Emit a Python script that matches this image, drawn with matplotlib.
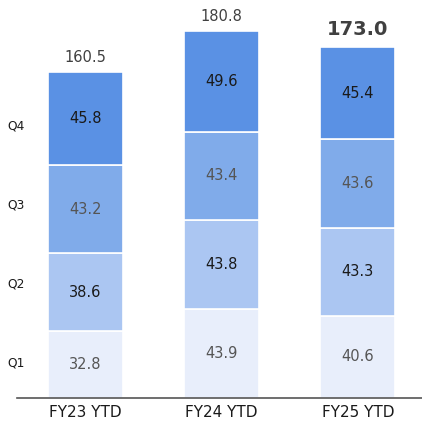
import numpy as np
import matplotlib.pyplot as plt
import matplotlib.transforms as mtransforms

plt.rcParams["font.family"] = "DejaVu Sans"

# categories and quarterly values
years = ["FY23 YTD", "FY24 YTD", "FY25 YTD"]
quarters = ["Q1", "Q2", "Q3", "Q4"]
q1 = [32.8, 43.9, 40.6]
q2 = [38.6, 43.8, 43.3]
q3 = [43.2, 43.4, 43.6]
q4 = [45.8, 49.6, 45.4]
totals = [160.5, 180.8, 173.0]

# where the quarter names sit on the left
quarter_label_y = [17, 56, 95, 134]

colors = ["#e8eefb", "#abc6f2", "#80abea", "#5a91e4"]
text_colors = ["#555555", "#1a1a1a", "#555555", "#1a1a1a"]

fig = plt.figure(figsize=(4.22, 4.23), dpi=100)
ax = fig.add_axes([17/422, 25/423, 405/422, 398/423])

x = np.arange(len(years))
bottom = np.zeros(len(years))
for vals, c, tc in zip([q1, q2, q3, q4], colors, text_colors):
    vals = np.array(vals)
    ax.bar(x, vals, 0.55, bottom=bottom, color=c, edgecolor="white", linewidth=1.2)
    for xi, b, v in zip(x, bottom, vals):
        ax.text(xi, b + v/2, f"{v:.1f}", ha="center", va="center",
                fontsize=10.5, color=tc)
    bottom += vals

# totals on top
for i, t in enumerate(totals):
    if i == len(totals) - 1:
        ax.text(x[i], t + 4, f"{t:.1f}", ha="center", va="bottom",
                fontsize=14, fontweight="bold", color="#404040")
    else:
        ax.text(x[i], t + 3.5, f"{t:.1f}", ha="center", va="bottom",
                fontsize=10.5, color="#404040")

# quarter names at left
trans = mtransforms.blended_transform_factory(fig.transFigure, ax.transData)
for q, yq in zip(quarters, quarter_label_y):
    ax.text(16.5/422, yq, q, transform=trans, ha="center", va="center",
            fontsize=8.8, color="#1a1a1a")

ax.set_xlim(-0.5, 2.47)
ax.set_ylim(0, 196)
ax.set_xticks(x)
ax.set_xticklabels(years, fontsize=11, color="#1a1a1a")
ax.tick_params(axis="x", length=0, pad=5)
ax.set_yticks([])
for s in ["top", "right", "left"]:
    ax.spines[s].set_visible(False)
ax.spines["bottom"].set_color("#555555")
ax.spines["bottom"].set_linewidth(1.2)

fig.savefig("out.png", dpi=100)
